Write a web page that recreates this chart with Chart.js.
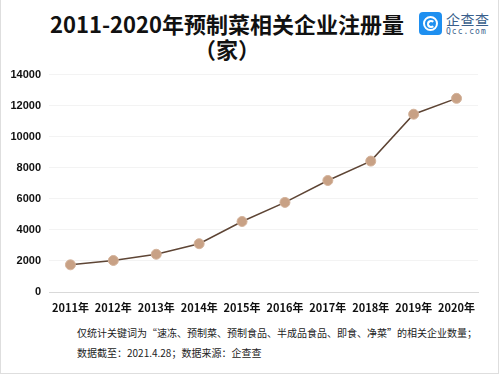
<!DOCTYPE html>
<html>
<head>
<meta charset="utf-8">
<script src="https://cdn.jsdelivr.net/npm/chart.js@4/dist/chart.umd.min.js"></script>
<style>
  html,body{margin:0;padding:0;background:#fff;}
  #wrap{position:relative;width:499px;height:374px;overflow:hidden;box-sizing:border-box;border:1px solid #dedede;border-top:none;font-family:"Noto Sans CJK SC","Noto Sans",sans-serif;}
  .title{position:absolute;left:0;width:452px;text-align:center;font-weight:bold;font-size:22px;color:#111;line-height:24px;}
  #logoBox{position:absolute;left:418px;top:12px;width:23px;height:23px;background:#1e8ff0;border-radius:4px;}
  #logoBox .r{position:absolute;left:4px;top:4px;width:11px;height:11px;border:2.5px solid #fff;border-radius:50%;}
  #logoBox .r2{position:absolute;left:8px;top:8px;width:4px;height:4px;border:2px solid #fff;border-radius:50%;border-right-color:transparent;}
  .lt{position:absolute;left:445px;color:#3a5f8c;white-space:nowrap;}
  .note{position:absolute;left:76px;font-size:10px;color:#222;white-space:nowrap;line-height:12px;}
  #c{position:absolute;left:0;top:60px;}
</style>
</head>
<body>
<div id="wrap">
  <div class="title" style="top:11px">2011-2020年预制菜相关企业注册量</div>
  <div class="title" style="top:36px">（家）</div>
  <div id="logoBox"><div class="r"></div><div class="r2"></div></div>
  <div class="lt" style="top:9px;font-size:14px;letter-spacing:0.5px;">企查查</div>
  <div class="lt" style="top:27px;font-size:8px;letter-spacing:1px;font-family:'DejaVu Sans Mono',monospace;">Qcc.com</div>
  <canvas id="c" width="485" height="257"></canvas>
  <div class="note" style="top:327px">仅统计关键词为“速冻、预制菜、预制食品、半成品食品、即食、净菜”的相关企业数量；</div>
  <div class="note" style="top:347px">数据截至：2021.4.28；数据来源：企查查</div>
</div>
<script>
const years = ['2011年','2012年','2013年','2014年','2015年','2016年','2017年','2018年','2019年','2020年'];
const registrations = [1750, 2030, 2430, 3110, 4540, 5770, 7180, 8430, 11450, 12470];
const yMax = 14000;
const yStep = 2000;

const chart = new Chart(document.getElementById('c'), {
  type: 'line',
  data: {
    labels: years,
    datasets: [{
      data: registrations,
      borderColor: '#5e4535',
      borderWidth: 1.5,
      backgroundColor: '#c8a185',
      pointBackgroundColor: '#c8a185',
      pointBorderColor: '#d4b39b',
      pointBorderWidth: 1,
      pointRadius: 5,
      tension: 0
    }]
  },
  options: {
    responsive: false,
    animation: false,
    layout: { padding: { top: 12, right: 8, left: 0, bottom: 0 } },
    plugins: { legend: { display: false }, tooltip: { enabled: false } },
    scales: {
      x: {
        offset: true,
        grid: { display: false, drawTicks: false },
        border: { display: true, color: '#d9d9d9' },
        ticks: { padding: 9, color: '#111', font: { family: '"Noto Sans CJK SC"', size: 11, weight: 'bold' }, maxRotation: 0, autoSkip: false },
        afterFit: s => { s.height = 25; }
      },
      y: {
        min: 0, max: yMax,
        grid: { color: '#f3f3f3', drawTicks: false },
        border: { display: false },
        ticks: { stepSize: yStep, padding: 8, color: '#111', font: { family: '"Liberation Sans", Arial', size: 11, weight: 'bold' }, callback: v => String(v) },
        afterFit: s => { s.width = 48; }
      }
    }
  }
});
</script>
</body>
</html>
